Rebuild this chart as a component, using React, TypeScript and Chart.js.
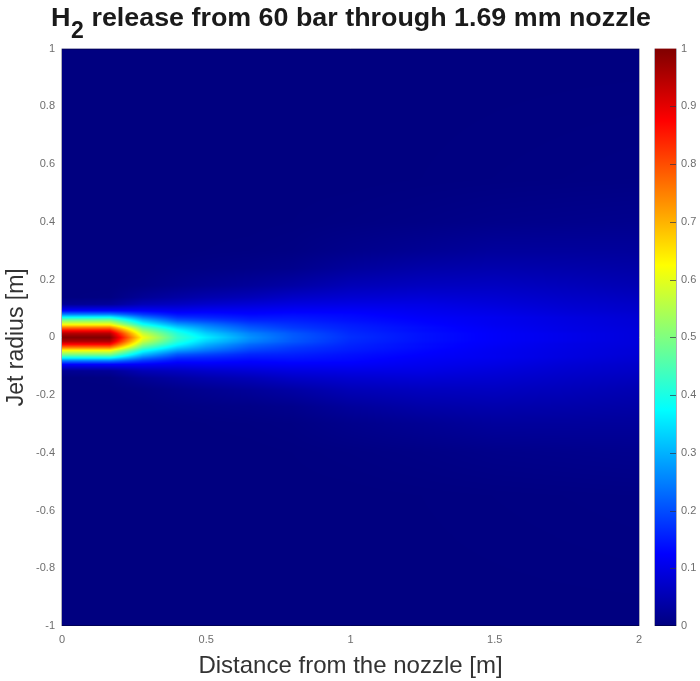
import React, { useEffect, useRef } from "react";
import { Chart, registerables } from "chart.js";

Chart.register(...registerables);

const titleMain = " release from 60 bar through 1.69 mm nozzle";
const xLabel = "Distance from the nozzle [m]";
const yLabel = "Jet radius [m]";

// stations along the jet [m]
const stations = [0, 0.165, 0.28, 0.4, 0.5, 0.65, 0.8, 1.0, 1.25, 1.5, 1.75, 2.0];
// radial positions [m]
const radii = [0, 0.014, 0.024, 0.035, 0.045, 0.059, 0.07, 0.08, 0.093, 0.115, 0.14, 0.18, 0.24, 0.3, 0.4, 0.55, 1.0];

const at000 = [1, 0.95, 0.87, 0.75, 0.62, 0.5, 0.38, 0.25, 0.125, 0.02, 0, 0, 0, 0, 0, 0, 0];
const at017 = [1, 0.95, 0.87, 0.75, 0.62, 0.5, 0.38, 0.25, 0.125, 0.025, 0.003, 0, 0, 0, 0, 0, 0];
const at028 = [0.62, 0.57, 0.52, 0.46, 0.39, 0.31, 0.24, 0.18, 0.12, 0.055, 0.022, 0.004, 0, 0, 0, 0, 0];
const at040 = [0.43, 0.41, 0.38, 0.33, 0.28, 0.21, 0.17, 0.14, 0.11, 0.065, 0.035, 0.012, 0.003, 0, 0, 0, 0];
const at050 = [0.36, 0.33, 0.3, 0.27, 0.24, 0.19, 0.16, 0.14, 0.115, 0.075, 0.045, 0.018, 0.005, 0.001, 0, 0, 0];
const at065 = [0.27, 0.255, 0.23, 0.21, 0.19, 0.16, 0.145, 0.13, 0.115, 0.085, 0.055, 0.026, 0.008, 0.002, 0, 0, 0];
const at080 = [0.215, 0.21, 0.195, 0.18, 0.17, 0.155, 0.145, 0.135, 0.12, 0.095, 0.07, 0.037, 0.013, 0.004, 0.001, 0, 0];
const at100 = [0.17, 0.165, 0.16, 0.155, 0.15, 0.14, 0.135, 0.13, 0.12, 0.1, 0.08, 0.055, 0.028, 0.012, 0.003, 0, 0];
const at125 = [0.14, 0.14, 0.135, 0.135, 0.13, 0.125, 0.12, 0.115, 0.11, 0.1, 0.085, 0.063, 0.04, 0.02, 0.006, 0.001, 0];
const at150 = [0.12, 0.12, 0.118, 0.115, 0.112, 0.11, 0.11, 0.105, 0.1, 0.09, 0.08, 0.065, 0.045, 0.028, 0.01, 0.002, 0];
const at175 = [0.105, 0.105, 0.1, 0.1, 0.098, 0.096, 0.095, 0.09, 0.085, 0.078, 0.07, 0.058, 0.042, 0.028, 0.012, 0.003, 0];
const at200 = [0.09, 0.09, 0.09, 0.088, 0.086, 0.085, 0.082, 0.08, 0.075, 0.07, 0.062, 0.05, 0.038, 0.027, 0.014, 0.004, 0];
const columns = [at000, at017, at028, at040, at050, at065, at080, at100, at125, at150, at175, at200];

const points: { x: number; y: number; v: number }[] = [];
stations.forEach((x, i) => {
  radii.forEach((r, j) => {
    points.push({ x, y: r, v: columns[i][j] });
    if (r > 0) points.push({ x, y: -r, v: columns[i][j] });
  });
});

function jet(v: number): [number, number, number] {
  const c = (t: number) => Math.max(0, Math.min(1, t));
  const t = c(v);
  const r = c(Math.min(4 * t - 1.5, -4 * t + 4.5));
  const g = c(Math.min(4 * t - 0.5, -4 * t + 3.5));
  const b = c(Math.min(4 * t + 0.5, -4 * t + 2.5));
  return [r * 255, g * 255, b * 255];
}

function locate(arr: number[], v: number): [number, number] {
  let i = 0;
  while (i < arr.length - 2 && arr[i + 1] < v) i++;
  const f = (v - arr[i]) / (arr[i + 1] - arr[i]);
  return [i, Math.max(0, Math.min(1, f))];
}

const tickText = (v: any) => String(Number(Number(v).toFixed(1)));

const heatmapPlugin = {
  id: "heatmap",
  beforeDatasetsDraw(chart: any) {
    const { ctx, chartArea: a, scales } = chart;
    const w = Math.round(a.right - a.left);
    const h = Math.round(a.bottom - a.top);
    const off = document.createElement("canvas");
    off.width = w;
    off.height = h;
    const oc = off.getContext("2d")!;
    const img = oc.createImageData(w, h);
    const cols = Array.from({ length: w }, (_, px) => locate(stations, scales.x.getValueForPixel(a.left + px + 0.5)));
    const rows = Array.from({ length: h }, (_, py) => locate(radii, Math.abs(scales.y.getValueForPixel(a.top + py + 0.5))));
    for (let py = 0; py < h; py++) {
      const [j, fy] = rows[py];
      for (let px = 0; px < w; px++) {
        const [i, fx] = cols[px];
        const v =
          (columns[i][j] * (1 - fy) + columns[i][j + 1] * fy) * (1 - fx) +
          (columns[i + 1][j] * (1 - fy) + columns[i + 1][j + 1] * fy) * fx;
        const [r, g, b] = jet(v);
        const k = (py * w + px) * 4;
        img.data[k] = r;
        img.data[k + 1] = g;
        img.data[k + 2] = b;
        img.data[k + 3] = 255;
      }
    }
    oc.putImageData(img, 0, 0);
    ctx.drawImage(off, a.left, a.top, a.right - a.left, a.bottom - a.top);

    // colour bar, placed beside the plot and spanning the scale c
    const c = scales.c;
    const barL = a.right + 16;
    const barR = a.right + 37;
    const top = c.getPixelForValue(1);
    const bottom = c.getPixelForValue(0);
    const grad = ctx.createLinearGradient(0, bottom, 0, top);
    for (let s = 0; s <= 64; s++) {
      const [r, g, b] = jet(s / 64);
      grad.addColorStop(s / 64, `rgb(${r},${g},${b})`);
    }
    ctx.fillStyle = grad;
    ctx.fillRect(barL, top, barR - barL, bottom - top);
    ctx.strokeStyle = "rgba(50,50,70,0.7)";
    ctx.lineWidth = 1;
    c.ticks.forEach((t: any) => {
      if (t.value <= 0 || t.value >= 1) return;
      const y = Math.round(c.getPixelForValue(t.value)) + 0.5;
      ctx.beginPath();
      ctx.moveTo(barR - 6, y);
      ctx.lineTo(barR, y);
      ctx.stroke();
    });
    // frame edges: faint grey at the sides, navy top and bottom
    const vline = (x: number, y0: number, y1: number) => {
      ctx.beginPath();
      ctx.moveTo(x, y0);
      ctx.lineTo(x, y1);
      ctx.stroke();
    };
    const hline = (x0: number, x1: number, y: number) => {
      ctx.beginPath();
      ctx.moveTo(x0, y);
      ctx.lineTo(x1, y);
      ctx.stroke();
    };
    ctx.strokeStyle = "rgba(120,120,140,0.6)";
    vline(a.left - 0.5, a.top, a.bottom);
    vline(a.right + 0.5, a.top, a.bottom);
    vline(barL - 0.5, top, bottom);
    vline(barR + 0.5, top, bottom);
    ctx.strokeStyle = "rgba(0,0,80,0.85)";
    hline(a.left, a.right, a.top + 0.5);
    hline(a.left, a.right, a.bottom - 0.5);
    hline(barL, barR, bottom - 0.5);
  },
  afterDraw(chart: any) {
    const { ctx } = chart;
    ctx.save();
    ctx.fillStyle = "#1a1a1a";
    ctx.textAlign = "left";
    ctx.textBaseline = "alphabetic";
    ctx.font = 'bold 25px "Liberation Sans", Arial, sans-serif';
    ctx.save();
    ctx.translate(51, 26);
    ctx.scale(1.08, 1);
    ctx.fillText("H", 0, 0);
    ctx.restore();
    ctx.save();
    ctx.translate(84, 26);
    ctx.scale(1.074, 1);
    ctx.fillText(titleMain, 0, 0);
    ctx.restore();
    ctx.font = 'bold 23px "Liberation Sans", Arial, sans-serif';
    ctx.fillText("2", 71, 38);
    ctx.restore();
  },
};

export default function App() {
  const ref = useRef<HTMLCanvasElement>(null);
  useEffect(() => {
    document.body.style.margin = "0";
    const font = '"Liberation Sans", Arial, sans-serif';
    const chart = new Chart(ref.current!, {
      type: "scatter",
      data: {
        datasets: [{ label: "H2 mass fraction", data: points, pointRadius: 0, pointHoverRadius: 0, showLine: false }],
      },
      plugins: [heatmapPlugin],
      options: {
        animation: false,
        responsive: false,
        devicePixelRatio: 1,
        layout: { padding: { top: 48, left: 0, right: 0, bottom: 0 } },
        plugins: { legend: { display: false }, tooltip: { enabled: false } },
        font: { family: font },
        scales: {
          x: {
            type: "linear",
            min: 0,
            max: 2,
            position: "bottom",
            grid: { display: false, drawTicks: false },
            border: { display: false },
            ticks: { stepSize: 0.5, padding: 7, color: "#6e6e6e", maxRotation: 0, callback: tickText, font: { size: 11, family: font } },
            title: { display: true, text: xLabel, color: "#333333", padding: { top: 0, bottom: 0 }, font: { size: 24, family: font } },
            afterFit(s: any) { s.height = 55; },
          },
          y: {
            type: "linear",
            min: -1,
            max: 1,
            position: "left",
            grid: { display: false, drawTicks: false },
            border: { display: false },
            ticks: { stepSize: 0.2, padding: 7, color: "#6e6e6e", callback: tickText, font: { size: 11, family: font } },
            title: { display: true, text: yLabel, color: "#333333", padding: { top: 3, bottom: 0 }, font: { size: 23, family: font } },
            afterFit(s: any) { s.width = 62; },
          },
          c: {
            type: "linear",
            min: 0,
            max: 1,
            position: "right",
            grid: { display: false, drawTicks: false },
            border: { display: false },
            ticks: { stepSize: 0.1, padding: 42, color: "#6e6e6e", callback: tickText, font: { size: 11, family: font } },
            afterFit(s: any) { s.width = 61; },
          },
        },
      } as any,
    });
    return () => chart.destroy();
  }, []);
  return <canvas ref={ref} width={700} height={681} style={{ display: "block" }} />;
}
